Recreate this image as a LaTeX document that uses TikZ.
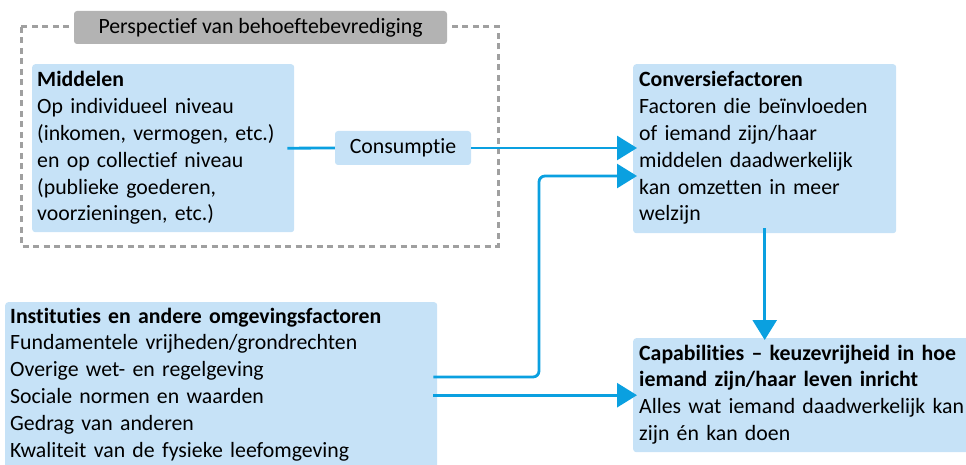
\documentclass[tikz,border=0pt]{standalone}
\usepackage{fontspec}
\setmainfont{Carlito}[Ligatures={NoCommon,NoRequired,NoContextual}]
\usetikzlibrary{arrows.meta}
\definecolor{boxblue}{HTML}{C6E2F7}
\definecolor{flowblue}{HTML}{0AA0E0}
\definecolor{labelgray}{HTML}{B3B3B3}
\definecolor{dashgray}{HTML}{A0A0A0}
\newcommand{\panelfont}{\fontsize{21.8}{26.8}\selectfont}
\begin{document}
\begin{tikzpicture}[x=1pt,y=-1pt,
  panel/.style={fill=boxblue, rounded corners=3pt, draw=none, inner sep=0pt, anchor=north west},
  body/.style={anchor=base west, align=left, inner sep=0pt, text width=#1, font=\panelfont},
  flow/.style={draw=flowblue, line width=2.8pt, rounded corners=6pt},
  tip/.style={-{Triangle[length=20pt,width=24pt]}, shorten >=-4pt}
]
\useasboundingbox (0,0) rectangle (966,465);
\clip (0,0) rectangle (966,465);

% frame around the needs-satisfaction perspective
\draw[dashgray, line width=3pt, dash pattern=on 6pt off 4.5pt] (21,27) rectangle (498,246);
\node[fill=labelgray, rounded corners=3pt, inner sep=0pt, minimum width=373pt,
      minimum height=33pt, font=\panelfont] (persp) at (260.5,27.5)
      {Perspectief van behoeftebevrediging};

% blue panels
\node[panel, minimum width=262pt, minimum height=168pt] (mid) at (32,64) {};
\node[panel, minimum width=263pt, minimum height=169pt] (conv) at (633,64) {};
\node[panel, minimum width=432pt, minimum height=200pt] (inst) at (5,302) {};
\node[panel, minimum width=340pt, minimum height=114pt] (cap) at (633,338) {};
\node[fill=boxblue, rounded corners=3pt, inner sep=0pt, minimum width=136pt,
      minimum height=34pt, font=\panelfont] (cons) at (403,148) {Consumptie};

% panel texts
\node[body=255pt] (midtxt) at (37,87) {\textbf{Middelen}\\Op individueel niveau\\(inkomen, vermogen, etc.)\\en op collectief niveau\\(publieke goederen,\\voorzieningen, etc.)};
\node[body=255pt] (convtxt) at (639,87) {\textbf{Conversiefactoren}\\Factoren die beïnvloeden\\of iemand zijn/haar\\middelen daadwerkelijk\\kan omzetten in meer\\welzijn};
\node[body=425pt] (insttxt) at (10,323) {\textbf{Instituties en andere omgevingsfactoren}\\Fundamentele vrijheden/grondrechten\\Overige wet- en regelgeving\\Sociale normen en waarden\\Gedrag van anderen\\Kwaliteit van de fysieke leefomgeving};
\node[body=330pt] (captxt) at (639,360) {\textbf{Capabilities – keuzevrijheid in hoe}\\\textbf{iemand zijn/haar leven inricht}\\Alles wat iemand daadwerkelijk kan\\zijn én kan doen};

% connectors
\coordinate (bend) at (539,176);
\draw[flow] ([xshift=-7pt]mid.east) -- (cons.west);
\draw[flow,tip] (cons.east) -- (cons.east -| conv.west);
\draw[flow,tip,shorten <=-4pt] ([yshift=-75pt]inst.north east) -| (bend) -- (bend -| conv.west);
\draw[flow,tip,shorten <=-4pt] (inst.east |- cap.west) -- (cap.west);
\draw[flow,tip,shorten <=-5pt,shorten >=-2pt] (conv.south) -- (conv.south |- cap.north);
\end{tikzpicture}
\end{document}
